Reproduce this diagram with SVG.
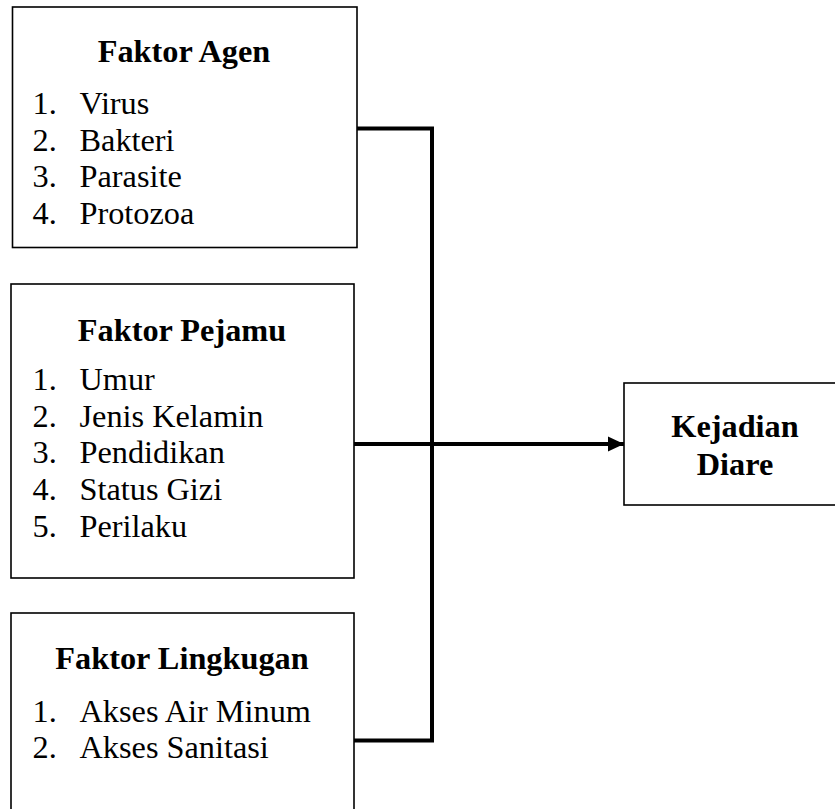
<svg xmlns="http://www.w3.org/2000/svg" width="835" height="809" viewBox="0 0 835 809">
<style>
.box{fill:#fff;stroke:#000;stroke-width:1.6}
.t{font-family:"Liberation Serif","Times New Roman",serif;font-weight:bold;font-size:32.3px;fill:#000;text-anchor:middle}
.i{font-family:"Liberation Serif","Times New Roman",serif;font-size:32.3px;fill:#000}
.c{fill:none;stroke:#000;stroke-width:4}
</style>
<defs>
<marker id="arr" markerUnits="userSpaceOnUse" markerWidth="16" markerHeight="16" refX="16" refY="8" orient="auto">
<path d="M0,0.5 L16,8 L0,15.5 Z" fill="#000"/>
</marker>
</defs>
<rect width="835" height="809" fill="#fff"/>
<g id="connectors">
<polyline class="c" points="357,128.5 432,128.5 432,740.5 354,740.5"/>
<line class="c" x1="354" y1="444" x2="624" y2="444" marker-end="url(#arr)"/>
</g>
<g id="faktor-agen">
<rect class="box" x="12.5" y="7" width="344.5" height="240.5"/>
<text class="t" x="184" y="62">Faktor Agen</text>
<text class="i" x="32.5" y="114">1.</text><text class="i" x="79.5" y="114">Virus</text>
<text class="i" x="32.5" y="150.7">2.</text><text class="i" x="79.5" y="150.7">Bakteri</text>
<text class="i" x="32.5" y="187.3">3.</text><text class="i" x="79.5" y="187.3">Parasite</text>
<text class="i" x="32.5" y="224">4.</text><text class="i" x="79.5" y="224">Protozoa</text>
</g>
<g id="faktor-pejamu">
<rect class="box" x="11" y="284" width="343" height="294"/>
<text class="t" x="182" y="340.7">Faktor Pejamu</text>
<text class="i" x="32.5" y="390">1.</text><text class="i" x="79.5" y="390">Umur</text>
<text class="i" x="32.5" y="426.7">2.</text><text class="i" x="79.5" y="426.7">Jenis Kelamin</text>
<text class="i" x="32.5" y="463.4">3.</text><text class="i" x="79.5" y="463.4">Pendidikan</text>
<text class="i" x="32.5" y="500">4.</text><text class="i" x="79.5" y="500">Status Gizi</text>
<text class="i" x="32.5" y="536.8">5.</text><text class="i" x="79.5" y="536.8">Perilaku</text>
</g>
<g id="faktor-lingkugan">
<rect class="box" x="11" y="613" width="343" height="220"/>
<text class="t" x="182" y="669.3">Faktor Lingkugan</text>
<text class="i" x="32.5" y="721.7">1.</text><text class="i" x="79.5" y="721.7">Akses Air Minum</text>
<text class="i" x="32.5" y="758.3">2.</text><text class="i" x="79.5" y="758.3">Akses Sanitasi</text>
</g>
<g id="kejadian-diare">
<rect class="box" x="624" y="383" width="222" height="122"/>
<text class="t" x="735" y="436.7">Kejadian</text>
<text class="t" x="735" y="475">Diare</text>
</g>
</svg>
